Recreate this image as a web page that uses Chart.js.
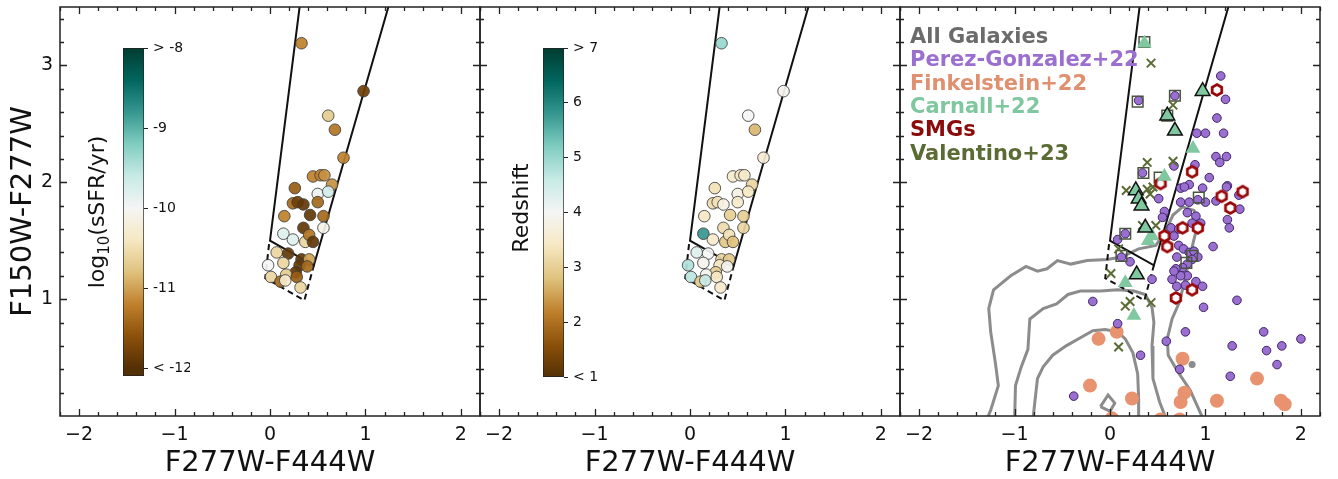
<!DOCTYPE html>
<html>
<head>
<meta charset="utf-8">
<script src="https://cdn.jsdelivr.net/npm/chart.js@4.4.0/dist/chart.umd.min.js"></script>
<style>
html,body{margin:0;padding:0;background:#fff;}
#wrap{position:relative;width:1338px;height:479px;overflow:hidden;font-family:"DejaVu Sans",sans-serif;}
canvas{position:absolute;}
.cbt{position:absolute;transform:translate(-50%,-50%) rotate(-90deg);white-space:nowrap;font-size:22px;color:#111;}
.cbt sub{font-size:15px;vertical-align:-5px;}
</style>
</head>
<body>
<div id="wrap">
  <canvas id="p1" width="490" height="479" style="left:0;top:0"></canvas>
  <canvas id="p2" width="440" height="479" style="left:470px;top:0"></canvas>
  <canvas id="p3" width="448" height="479" style="left:890px;top:0"></canvas>
  <canvas id="cb1" width="70" height="345" style="left:120px;top:40px"></canvas>
  <canvas id="cb2" width="70" height="346" style="left:540px;top:40px"></canvas>
  <div class="cbt" style="left:98px;top:212px">log<sub>10</sub>(sSFR/yr)</div>
  <div class="cbt" style="left:520px;top:208px">Redshift</div>
</div>
<script>
// ---- axes ----
const xTitle='F277W-F444W', yTitle='F150W-F277W';
const xTicks=[-2,-1,0,1,2], xTickLabels=['\u22122','\u22121','0','1','2'];
const yTicks=[1,2,3], yTickLabels=['1','2','3'];
const ssfrTicks=[-12,-11,-10,-9,-8], ssfrTickLabels=['< -12','-11','-10','-9','> -8'];
const zTicks=[1,2,3,4,5,6,7], zTickLabels=['< 1','2','3','4','5','6','> 7'];

// ---- selection wedge ----
const wedgeSolid=[[0.31,3.5],[0.0,1.5],[0.46,1.29],[1.24,3.5]];
const wedgeDashed=[[-0.01,1.47],[-0.05,1.18],[0.36,0.99],[0.46,1.29]];

// ---- our sample (panels 1 & 2) ----
const galX=[0.33,0.98,0.61,0.68,0.77,0.45,0.53,0.57,0.65,0.26,0.50,0.61,0.24,0.29,0.35,0.50,0.42,0.15,0.56,0.35,0.56,0.14,0.24,0.37,0.41,0.45,0.07,0.19,0.33,0.41,-0.02,0.14,0.31,0.39,0.27,0.17,0.01,0.11,0.16,0.28,0.32];
const galY=[3.19,2.78,2.57,2.45,2.21,2.05,2.06,2.06,1.98,1.95,1.90,1.92,1.82,1.83,1.81,1.83,1.72,1.71,1.71,1.61,1.61,1.56,1.51,1.49,1.55,1.49,1.40,1.39,1.34,1.34,1.29,1.31,1.29,1.28,1.23,1.21,1.19,1.15,1.16,1.19,1.10];
const galSSFR=[-11.2,-11.8,-10.7,-11.3,-11.2,-11.2,-11.2,-11.1,-11.1,-11.5,-9.9,-9.7,-11.4,-11.8,-11.9,-11.4,-11.9,-11.2,-11.4,-11.9,-10.1,-9.8,-9.8,-10.6,-11.3,-11.9,-10.6,-11.9,-11.9,-11.0,-10.0,-10.6,-11.9,-11.4,-11.9,-10.7,-10.6,-11.4,-10.3,-11.5,-10.6];
const galZ=[5.0,3.9,4.0,2.7,3.6,3.5,3.4,3.5,3.1,3.3,3.8,3.4,3.2,3.3,3.8,3.5,3.0,3.4,3.0,3.2,3.1,5.8,3.5,2.9,3.3,2.8,4.3,4.0,3.1,2.9,4.8,3.9,3.4,3.9,3.0,3.9,4.7,2.9,4.6,3.4,3.5];

// ---- literature samples (panel 3) ----
const perezGonzalez=[[1.16,2.91],[1.21,2.71],[0.30,2.70],[0.68,2.74],[1.12,2.55],[0.91,2.42],[1.00,2.42],[1.19,2.42],[1.11,2.22],[1.22,2.22],[1.15,2.17],[0.67,2.14],[0.34,2.08],[0.89,2.15],[1.04,2.04],[1.23,1.97],[1.35,1.89],[1.11,1.84],[1.36,1.77],[1.23,1.68],[1.25,1.61],[1.08,1.45],[1.33,0.99],[0.98,0.93],[-0.18,0.98],[0.08,0.79],[0.79,0.72],[0.59,0.64],[1.61,0.72],[2.00,0.66],[1.28,0.60],[1.64,0.56],[1.80,0.60],[0.32,0.52],[0.73,0.40],[1.75,0.44],[1.26,0.34],[-0.38,0.17],[0.44,1.17],[0.21,1.32],[0.74,1.95],[0.83,1.98],[0.78,1.96],[0.97,1.95],[0.74,1.83],[0.83,1.83],[0.92,1.85],[1.00,1.83],[0.51,1.86],[0.57,1.75],[0.81,1.74],[0.90,1.71],[0.86,1.65],[0.95,1.65],[0.64,1.61],[0.72,1.60],[0.67,1.54],[0.72,1.46],[0.77,1.43],[0.83,1.40],[0.88,1.41],[0.92,1.36],[0.86,1.34],[0.70,1.36],[0.81,1.30],[0.76,1.27],[0.69,1.26],[0.81,1.20],[0.74,1.20],[0.65,1.17],[0.90,1.15],[0.97,1.11],[0.79,1.12],[0.70,1.11],[0.67,1.24],[0.55,1.70],[0.16,1.56],[0.08,1.51],[0.12,1.36],[1.22,1.96]];
const finkelstein=[[-0.12,0.66],[0.07,0.72],[0.76,0.49],[-0.21,0.26],[0.23,0.15],[0.78,0.20],[0.74,0.12],[1.12,0.13],[1.54,0.32],[1.79,0.13],[1.83,0.10],[0.02,-0.02],[0.53,-0.03],[0.73,-0.03]];
const carnallEdged=[[0.97,2.78],[0.60,2.57],[0.68,2.44],[0.27,1.93],[0.30,1.86],[0.33,1.80],[0.37,1.61],[0.28,1.21]];
const carnallPlain=[[0.36,3.19],[0.87,2.29],[0.57,2.05],[0.44,1.54],[0.40,1.50],[0.16,1.14],[0.25,0.86]];
const smgs=[[1.12,2.79],[0.86,2.09],[1.17,1.88],[1.39,1.92],[1.26,1.78],[0.76,1.61],[0.92,1.61],[0.57,1.54],[0.60,1.45],[0.86,1.08],[0.69,1.01],[0.53,1.99]];
const valentino=[[0.43,3.02],[0.66,2.66],[0.39,2.17],[0.66,2.18],[0.17,1.93],[0.39,1.94],[0.45,1.96],[0.42,1.90],[0.34,1.63],[0.48,1.63],[0.01,1.22],[0.16,0.94],[0.21,0.98],[0.43,0.97],[0.09,0.59],[0.09,1.43]];
const boxed=[[0.36,3.20],[0.29,2.69],[0.68,2.74],[0.60,2.57],[0.35,2.08],[0.52,2.04],[0.16,1.56],[0.12,1.37],[0.93,1.87],[0.86,1.37],[0.80,1.31]];
const allGalPoints=[[0.86,0.44]];
const contourOuter=[[-1.30,-0.05],[-1.25,0.05],[-1.17,0.26],[-1.20,0.45],[-1.25,0.72],[-1.27,0.92],[-1.22,1.08],[-1.04,1.20],[-0.88,1.28],[-0.76,1.24],[-0.66,1.26],[-0.55,1.33],[-0.41,1.30],[-0.24,1.33],[-0.03,1.34],[0.12,1.36],[0.30,1.43],[0.48,1.46],[0.58,1.58],[0.66,1.72],[0.76,1.79],[0.88,1.76],[0.92,1.64],[0.87,1.48],[0.82,1.30],[0.77,1.12],[0.73,0.98],[0.65,0.83],[0.60,0.66],[0.61,0.52],[0.71,0.38],[0.84,0.22],[0.99,-0.05]];
const contourMiddle=[[-1.00,-0.05],[-0.99,0.26],[-0.93,0.42],[-0.86,0.57],[-0.84,0.83],[-0.70,0.92],[-0.56,0.96],[-0.44,1.04],[-0.31,1.07],[-0.10,1.07],[0.08,1.08],[0.25,1.07],[0.37,1.04],[0.44,0.93],[0.46,0.80],[0.44,0.60],[0.45,0.32],[0.52,0.12],[0.60,-0.05]];
const contourInner=[[-0.81,-0.05],[-0.79,0.10],[-0.76,0.32],[-0.70,0.42],[-0.60,0.52],[-0.46,0.60],[-0.31,0.67],[-0.18,0.73],[-0.05,0.74],[0.08,0.72],[0.16,0.66],[0.24,0.54],[0.29,0.36],[0.30,0.15],[0.30,-0.05]];
const contourIsland=[[-0.10,0.08],[-0.02,0.18],[0.05,0.11],[0.00,0.04],[-0.10,0.08]];

const legendLabels=['All Galaxies','Perez-Gonzalez+22','Finkelstein+22','Carnall+22','SMGs','Valentino+23'];
const legendColors=['#6b6b6b','#9b6fd0','#e0906e','#7fc79f','#8b0a0a','#5a6b34'];

// ---- colour map (BrBG) ----
const BRBG=['#543005','#8c510a','#bf812d','#dfc27d','#f6e8c3','#f5f5f5','#c7eae5','#80cdc1','#35978f','#01665e','#003c30'];
const hex2rgb=h=>[1,3,5].map(i=>parseInt(h.substr(i,2),16));
function cmap(t,a){
  t=Math.max(0,Math.min(1,t)); const f=t*10, i=Math.min(9,Math.floor(f)), u=f-i;
  const c0=hex2rgb(BRBG[i]), c1=hex2rgb(BRBG[i+1]);
  const c=c0.map((v,k)=>Math.round(v+(c1[k]-v)*u));
  return `rgba(${c[0]},${c[1]},${c[2]},${a==null?1:a})`;
}

Chart.defaults.font.family='"DejaVu Sans", sans-serif';
Chart.defaults.color='#111';

const pts=a=>a.map(p=>({x:p[0],y:p[1]}));
const noPad=s=>{s.paddingTop=0;s.paddingBottom=0;s.paddingLeft=0;s.paddingRight=0;};

const framePlugin={id:'frame',afterDraw(chart){
  const {ctx,chartArea:a,scales:{x,y}}=chart;
  ctx.save(); ctx.strokeStyle='#222'; ctx.lineWidth=1.3; ctx.beginPath();
  for(let k=-11;k<=11;k++){const p=Math.round(x.getPixelForValue(k/5))+0.5, L=k%5===0?7:4;
    ctx.moveTo(p,a.bottom);ctx.lineTo(p,a.bottom-L);ctx.moveTo(p,a.top);ctx.lineTo(p,a.top+L);}
  for(let k=1;k<=17;k++){const p=Math.round(y.getPixelForValue(k/5))+0.5, L=k%5===0?7:4;
    ctx.moveTo(a.left,p);ctx.lineTo(a.left+L,p);ctx.moveTo(a.right,p);ctx.lineTo(a.right-L,p);}
  ctx.stroke();
  ctx.lineWidth=1.5; ctx.strokeRect(a.left,a.top,a.right-a.left,a.bottom-a.top);
  ctx.restore();
}};
const legendPlugin={id:'srcLegend',afterDatasetsDraw(chart,args,opts){
  if(!opts.labels) return;
  const {ctx,chartArea:a}=chart; ctx.save();
  ctx.font='bold 21px "DejaVu Sans"'; ctx.textBaseline='alphabetic';
  opts.labels.forEach((t,i)=>{ctx.fillStyle=opts.colors[i];ctx.fillText(t,a.left+10,a.top+36+i*23.3);});
  ctx.restore();
}};

function xScale(){return {type:'linear',min:-2.2,max:2.2,
  afterBuildTicks:s=>{s.ticks=xTicks.map(v=>({value:v}));},
  afterFit:s=>{s.height=63;noPad(s);},
  grid:{display:false,drawTicks:false},border:{display:false},
  ticks:{font:{size:19},padding:8,maxRotation:0,autoSkip:false,callback:(v,i)=>xTickLabels[i]},
  title:{display:true,text:xTitle,font:{size:29},padding:{top:0,bottom:-2}}};}
function yScale(w,labels){return {type:'linear',min:0,max:3.5,
  afterBuildTicks:s=>{s.ticks=yTicks.map(v=>({value:v}));},
  afterFit:s=>{s.width=w;noPad(s);},
  grid:{display:false,drawTicks:false},border:{display:false},
  ticks:{display:labels,font:{size:19},padding:7,callback:(v,i)=>yTickLabels[i]},
  title:{display:labels,text:yTitle,font:{size:29},padding:{top:6,bottom:0}}};}

function lineDs(data,color,width,dash,order){return {data:pts(data),showLine:true,pointRadius:0,borderColor:color,borderWidth:width,borderDash:dash||[],clip:0,order:order,tension:0};}
function wedge(){return [lineDs(wedgeSolid,'#111',2,[],20),lineDs(wedgeDashed,'#111',2,[6,4],20)];}

function panel(id,datasets,yW,padR,yLabels,legend){
  return new Chart(document.getElementById(id),{type:'scatter',data:{datasets},
    options:{responsive:false,animation:false,events:[],
      layout:{autoPadding:false,padding:{top:7,right:padR,left:0,bottom:0}},
      plugins:{legend:{display:false},tooltip:{enabled:false},srcLegend:legend||{}},
      scales:{x:xScale(),y:yScale(yW,yLabels)}},
    plugins:[framePlugin,legendPlugin]});
}

function sampleDs(vals,vmin,vmax){
  return {data:galX.map((x,i)=>({x,y:galY[i]})),pointRadius:5.8,pointBorderWidth:1,
    pointBorderColor:'rgba(60,60,60,0.85)',pointBackgroundColor:vals.map(v=>cmap((v-vmin)/(vmax-vmin),0.92)),order:1};
}

panel('p1',[sampleDs(galSSFR,-12,-8),...wedge()],60,10,true);
panel('p2',[sampleDs(galZ,1,7),...wedge()],10,10,false);

function hexImage(r,lw,color){
  const c=document.createElement('canvas'), s=Math.ceil(2*r+lw+2); c.width=c.height=s;
  const g=c.getContext('2d'); g.beginPath();
  for(let i=0;i<6;i++){const an=-Math.PI/2+i*Math.PI/3, px=s/2+r*Math.cos(an), py=s/2+r*Math.sin(an); i?g.lineTo(px,py):g.moveTo(px,py);}
  g.closePath(); g.fillStyle='#fff'; g.fill(); g.strokeStyle=color; g.lineWidth=lw; g.stroke(); return c;
}

const contourColor='#8c8c8c';
panel('p3',[
  {data:pts(carnallEdged),pointStyle:'triangle',pointRadius:8.5,pointBackgroundColor:'#80c8a0',pointBorderColor:'#111',pointBorderWidth:1.5,order:1},
  {data:pts(carnallPlain),pointStyle:'triangle',pointRadius:8.5,pointBackgroundColor:'#80c8a0',pointBorderWidth:0,order:2},
  {data:pts(smgs),pointStyle:hexImage(5.5,2.8,'#990808'),pointRadius:6,order:3},
  {data:pts(valentino),pointStyle:'crossRot',pointRadius:6,pointBorderColor:'#5a6b34',pointBorderWidth:2,order:4},
  {data:pts(boxed),pointStyle:'rect',pointRadius:7.5,pointBackgroundColor:'rgba(0,0,0,0)',pointBorderColor:'#4a5540',pointBorderWidth:1.5,order:5},
  {data:pts(perezGonzalez),pointRadius:4.3,pointBackgroundColor:'#9b6fd0',pointBorderColor:'#3e2468',pointBorderWidth:1,order:6},
  {data:pts(allGalPoints),pointRadius:3.5,pointBackgroundColor:'#8c8c8c',pointBorderWidth:0,order:7},
  {data:pts(finkelstein),pointRadius:7,pointBackgroundColor:'#e8926f',pointBorderWidth:0,clip:0,order:8},
  ...wedge(),
  lineDs(contourOuter,contourColor,3,[],30),
  lineDs(contourMiddle,contourColor,3,[],30),
  lineDs(contourInner,contourColor,3,[],30),
  lineDs(contourIsland,contourColor,3,[],30)
],10,18,false,{labels:legendLabels,colors:legendColors});

// ---- colour bars ----
function colorbar(id,barMin,barMax,vmin,vmax,ticks,labels,padB){
  new Chart(document.getElementById(id),{type:'bar',
    data:{labels:['cb'],datasets:[{data:[[barMin,barMax]],barPercentage:1,categoryPercentage:1,
      borderColor:'#222',borderWidth:1,borderSkipped:false,
      backgroundColor:c=>{const a=c.chart.chartArea; if(!a) return '#ccc';
        const g=c.chart.ctx.createLinearGradient(0,a.bottom,0,a.top);
        g.addColorStop(0,cmap((barMin-vmin)/(vmax-vmin)));
        BRBG.forEach((col,i)=>{const v=vmin+(vmax-vmin)*i/10, o=(v-barMin)/(barMax-barMin); if(o>=0&&o<=1) g.addColorStop(o,col);});
        g.addColorStop(1,cmap((barMax-vmin)/(vmax-vmin)));
        return g;}}]},
    options:{responsive:false,animation:false,events:[],
      layout:{autoPadding:false,padding:{left:3,top:8,bottom:padB,right:0}},
      plugins:{legend:{display:false},tooltip:{enabled:false}},
      scales:{x:{display:false},
        y:{position:'right',min:barMin,max:barMax,
          afterBuildTicks:s=>{s.ticks=ticks.map(v=>({value:v}));},
          afterFit:s=>{s.width=46;noPad(s);},
          grid:{drawOnChartArea:false,tickLength:4,color:'#222',tickWidth:1},border:{display:false},
          ticks:{padding:5,font:{size:14},callback:(v,i)=>labels[i]}}}}});
}
colorbar('cb1',-12.1,-8,-12,-8,ssfrTicks,ssfrTickLabels,9);
colorbar('cb2',1,7,1,7,zTicks,zTickLabels,9);
</script>
</body>
</html>
